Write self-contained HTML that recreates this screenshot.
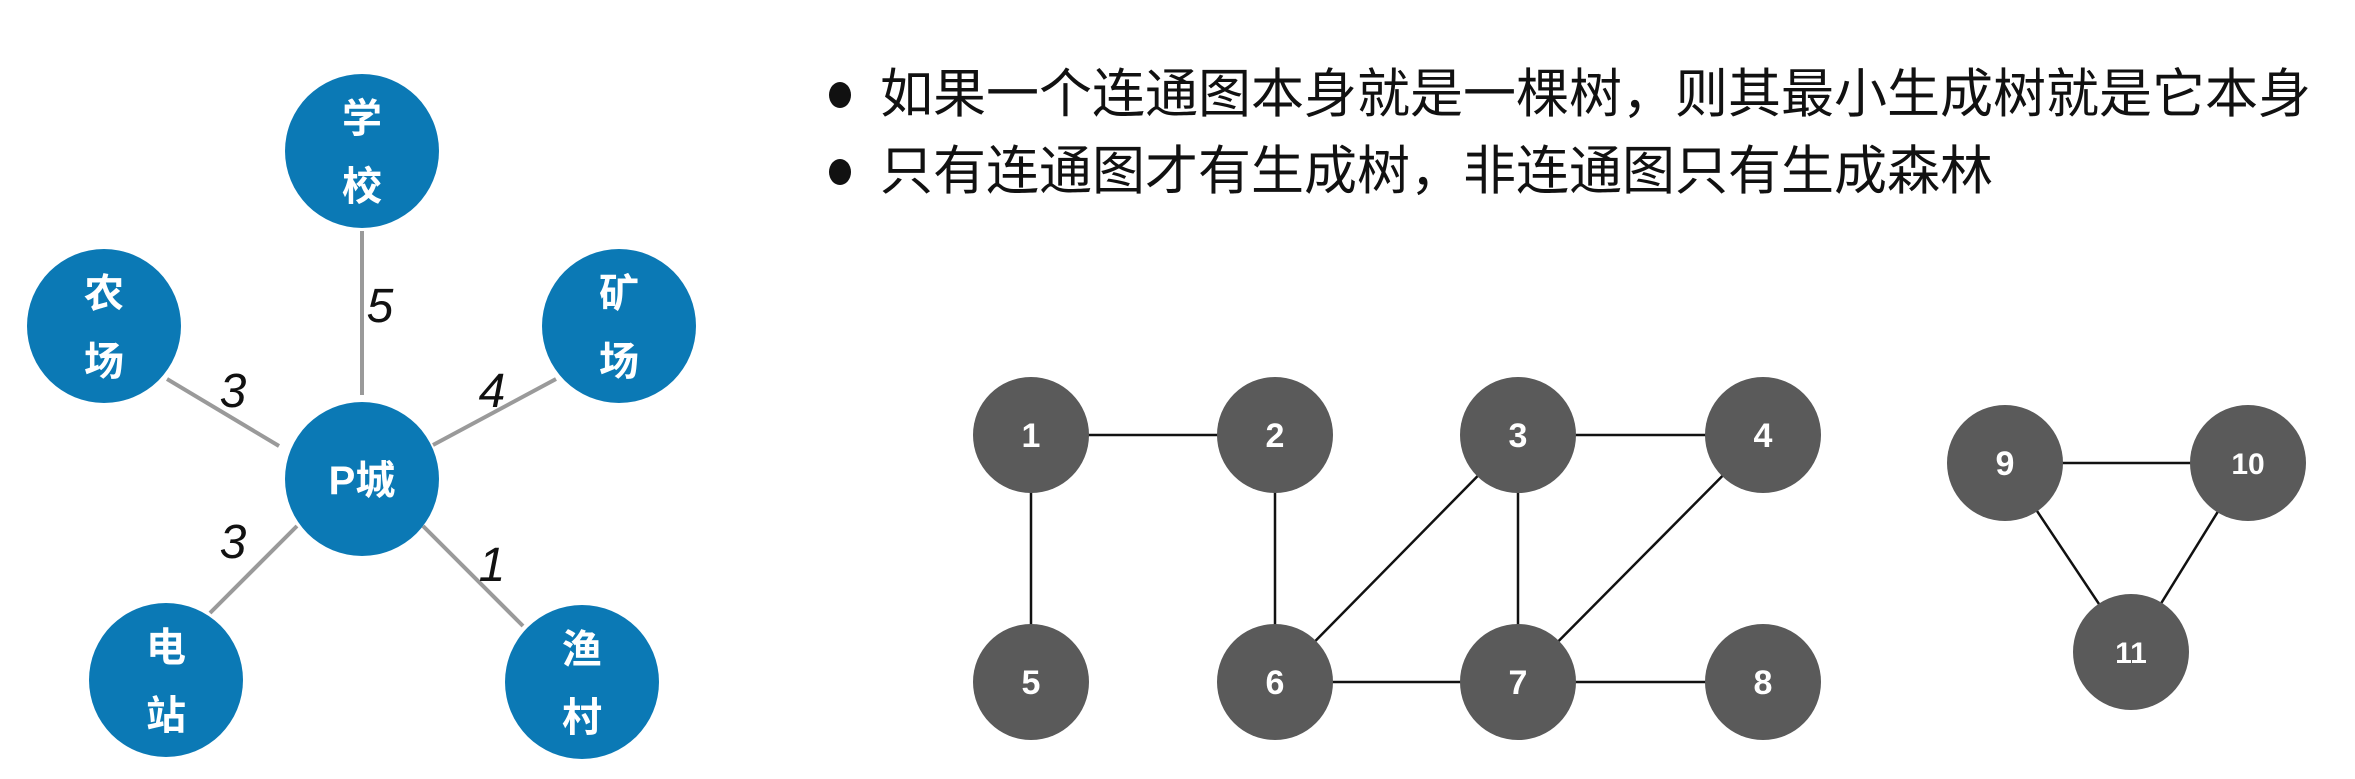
<!DOCTYPE html>
<html><head><meta charset="utf-8"><style>
html,body{margin:0;padding:0;background:#fff;}
body{width:2355px;height:779px;overflow:hidden;position:relative;}
.t{position:absolute;left:880px;font:53px "Liberation Sans","Noto Sans CJK SC",sans-serif;color:#111;white-space:nowrap;line-height:1;}
.b{position:absolute;left:829px;width:22px;height:26px;border-radius:50%;background:#111;}
</style></head><body>
<svg width="2355" height="779" style="position:absolute;left:0;top:0" font-family="Liberation Sans, Noto Sans CJK SC, sans-serif">
<g stroke="#9a9a9a" stroke-width="4">
<line x1="362" y1="231" x2="362" y2="395"/>
<line x1="167" y1="379" x2="279" y2="446"/>
<line x1="556" y1="379" x2="433" y2="445"/>
<line x1="210" y1="613" x2="297" y2="526"/>
<line x1="423" y1="526" x2="523" y2="626"/>
</g>
<g fill="#0b79b5">
<circle cx="362" cy="151" r="77"/><circle cx="362" cy="479" r="77"/>
<circle cx="104" cy="326" r="77"/><circle cx="619" cy="326" r="77"/>
<circle cx="166" cy="680" r="77"/><circle cx="582" cy="682" r="77"/>
</g>
<g fill="#fff" font-size="40" font-weight="bold" text-anchor="middle">
<text x="362" y="132">学</text><text x="362" y="200">校</text>
<text x="104" y="307">农</text><text x="104" y="375">场</text>
<text x="619" y="307">矿</text><text x="619" y="375">场</text>
<text x="166" y="661">电</text><text x="166" y="729">站</text>
<text x="582" y="663">渔</text><text x="582" y="731">村</text>
<text x="362" y="494">P城</text>
</g>
<g fill="#111" font-size="48" font-style="italic" text-anchor="middle">
<text x="380" y="322">5</text><text x="233" y="407">3</text><text x="492" y="407">4</text>
<text x="233" y="558">3</text><text x="492" y="581">1</text>
</g>
<g stroke="#111" stroke-width="2.5">
<line x1="1031" y1="435" x2="1275" y2="435"/>
<line x1="1031" y1="435" x2="1031" y2="682"/>
<line x1="1275" y1="435" x2="1275" y2="682"/>
<line x1="1518" y1="435" x2="1763" y2="435"/>
<line x1="1518" y1="435" x2="1518" y2="682"/>
<line x1="1518" y1="435" x2="1275" y2="682"/>
<line x1="1763" y1="435" x2="1518" y2="682"/>
<line x1="1275" y1="682" x2="1763" y2="682"/>
<line x1="2005" y1="463" x2="2248" y2="463"/>
<line x1="2005" y1="463" x2="2131" y2="652"/>
<line x1="2248" y1="463" x2="2131" y2="652"/>
</g>
<g fill="#5a5a5a">
<circle cx="1031" cy="435" r="58"/><circle cx="1275" cy="435" r="58"/><circle cx="1518" cy="435" r="58"/><circle cx="1763" cy="435" r="58"/>
<circle cx="1031" cy="682" r="58"/><circle cx="1275" cy="682" r="58"/><circle cx="1518" cy="682" r="58"/><circle cx="1763" cy="682" r="58"/>
<circle cx="2005" cy="463" r="58"/><circle cx="2248" cy="463" r="58"/><circle cx="2131" cy="652" r="58"/>
</g>
<g fill="#fff" font-size="34" font-weight="bold" text-anchor="middle">
<text x="1031" y="447">1</text><text x="1275" y="447">2</text><text x="1518" y="447">3</text><text x="1763" y="447">4</text>
<text x="1031" y="694">5</text><text x="1275" y="694">6</text><text x="1518" y="694">7</text><text x="1763" y="694">8</text>
<text x="2005" y="475">9</text><text x="2248" y="474" font-size="30">10</text><text x="2131" y="663" font-size="30">11</text>
</g>
</svg>
<div class="b" style="top:82px"></div>
<div class="t" style="top:68px">如果一个连通图本身就是一棵树，则其最小生成树就是它本身</div>
<div class="b" style="top:159px"></div>
<div class="t" style="top:145px">只有连通图才有生成树，非连通图只有生成森林</div>
</body></html>
